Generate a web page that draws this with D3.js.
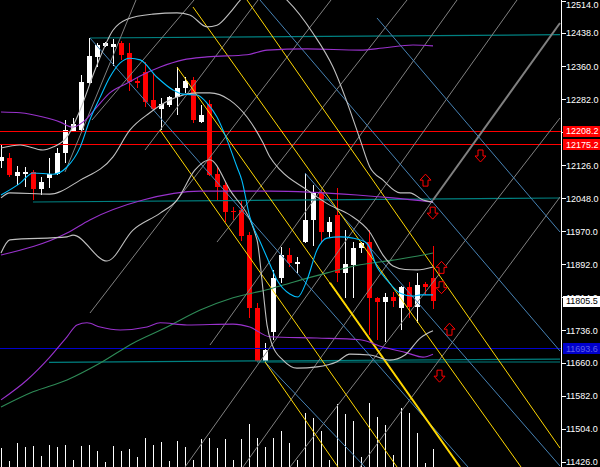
<!DOCTYPE html>
<html><head><meta charset="utf-8">
<script src="https://cdn.jsdelivr.net/npm/d3@7"></script>
<style>html,body{margin:0;padding:0;background:#000;overflow:hidden}</style>
</head><body>
<svg id="c" width="600" height="467"></svg>
<script>
// ---- candles (bar index 0..54) ----
const opens  = [12136,12143,12101,12105,12111,12070,12096,12105,12155,12205,12209,12320,12382,12407,12405,12415,12391,12325,12346,12280,12259,12268,12287,12308,12327,12228,12271,12105,12080,12018,12020,11961,11789,11664,11732,11860,11914,11893,11945,11997,12063,11968,12009,11872,11891,11931,11945,11813,11803,11815,11789,11839,11791,11846,11860];
const highs  = [12174,12155,12124,12122,12115,12098,12143,12167,12233,12238,12339,12427,12415,12418,12424,12420,12415,12335,12370,12344,12285,12290,12358,12335,12335,12268,12280,12122,12087,12028,12042,11969,11801,11706,11879,11933,11931,11909,12108,12080,12068,12004,12072,11973,11945,11945,11973,11815,11824,11827,11840,11850,11872,11850,11935];
const lows   = [12120,12098,12080,12075,12044,12056,12072,12103,12131,12204,12204,12318,12358,12405,12360,12375,12301,12308,12264,12257,12209,12264,12245,12297,12226,12227,12101,12044,11992,11997,11947,11765,11661,11661,11713,11848,11886,11872,11942,11935,11945,11957,11850,11813,11813,11919,11725,11713,11709,11791,11737,11765,11754,11820,11787];
const closes = [12146,12103,12110,12111,12070,12087,12105,12155,12209,12224,12323,12384,12410,12415,12412,12387,12323,12320,12275,12259,12271,12287,12309,12325,12233,12245,12103,12075,12016,12015,11959,11789,11664,11690,11860,11914,11895,11898,11997,12063,11969,11992,11872,11893,11931,11942,11813,11803,11815,11806,11839,11791,11843,11839,11805.5];
const volumes = [190,60,240,200,210,110,220,200,220,70,210,220,160,50,210,160,180,100,290,220,250,60,260,200,70,280,290,190,280,70,280,430,290,200,290,360,240,70,540,490,360,70,630,530,460,100,640,500,420,120,590,540,340,40,180];

// ---- indicators: [bar index, price] ----
const fastMA = [[0,12056],[2.4,12084],[4,12108],[6.5,12105],[8.25,12122],[9.9,12169],[11.1,12233],[12.4,12287],[13.6,12334],[14.9,12368],[16.1,12379],[17.4,12375],[19.5,12334],[21.5,12304],[22.75,12294],[24.5,12292],[25.75,12273],[27,12240],[28.25,12186],[29.5,12122],[30.1,12091],[31.1,12004],[32.4,11945],[33.6,11893],[34.5,11855],[36.1,11822],[37.1,11815],[38.25,11855],[39.5,11926],[40.75,11954],[42.4,11957],[44,11954],[45.75,11942],[47,11886],[48.25,11855],[49.9,11824],[51.5,11817],[52.5,11820],[54,11820]];
const bandUpper = [[0,12167],[2.4,12174],[5.25,12162],[6.5,12169],[8.25,12193],[9.9,12257],[11.75,12351],[14,12445],[15.75,12471],[19,12483],[22,12486],[23.6,12481],[25.75,12453],[27,12457],[28.6,12486],[29.9,12516],[32.6,12559],[35.75,12516],[39,12438],[41.5,12358],[43.6,12257],[44.9,12186],[46.1,12122],[47.75,12091],[49.9,12061],[51.1,12061],[52.75,12044],[54,12039]];
const bandMiddle = [[0,12049],[1.1,12061],[6.1,12058],[9.9,12091],[14,12146],[16.1,12209],[18.6,12250],[21.1,12280],[24.5,12297],[26.1,12297],[28.6,12280],[30.75,12240],[32.75,12179],[33.6,12146],[34.9,12115],[38.25,12068],[41.1,12032],[43.6,12009],[46.1,11968],[47.75,11914],[49,11888],[50.5,11880],[52,11879],[54,11886]];
const bandLower = [[0,11919],[1.1,11950],[8.25,11957],[9,11961],[13.25,11900],[16.5,11973],[19.9,12013],[22,12044],[24.25,12115],[26.1,12139],[28.6,12068],[32,11950],[32.75,11832],[33.25,11749],[33.9,11702],[35.25,11666],[37,11647],[39.5,11650],[42,11662],[43.6,11680],[46.1,11678],[48.6,11666],[50.5,11678],[52.4,11718],[54,11735]];
const envUpper = [[0,12252],[2.4,12250],[5.25,12240],[7.4,12228],[8.9,12216],[10.25,12228],[12,12264],[13.6,12297],[15.75,12320],[17.4,12337],[19.9,12358],[22.75,12375],[25.75,12382],[30.75,12387],[33.25,12398],[38.25,12401],[44.9,12398],[47.75,12403],[51.5,12410],[54,12408]];
const envMiddle = [[0,11914],[8.25,11966],[11.1,11997],[17.75,12044],[24.9,12065],[33.6,12065],[44.5,12056],[49,12049],[54,12039]];
const envLower = [[0,11572],[3.25,11619],[6.1,11673],[8.25,11721],[9.5,11749],[10.75,11754],[12.4,11744],[14.9,11737],[18.25,11744],[19.9,11754],[23.25,11749],[29,11751],[31.1,11744],[33.6,11721],[39.5,11718],[44.9,11714],[47.75,11697],[50.75,11683],[52.75,11673],[54,11680]];
const slowMA = [[0,11555],[4,11591],[8.25,11619],[12.4,11659],[16.5,11706],[20.75,11744],[24.9,11784],[29,11813],[33.6,11834],[36.5,11850],[40.75,11872],[44.9,11891],[49,11902],[52.75,11914],[54,11919]];

// ---- objects ----
const redLevels = [12208.2, 12175.2];
const blueLevel = 11693.6;
const lastPrice = 11805.5;
const tealLines = [[[11.125,12426.6],[69.875,12434.4]],[[4,12039.3],[69.875,12048.8]],[[6,11660.8],[69.875,11668.5]],[[32,11661.5],[69.875,11661.5]]];
const yellowLines = [[[24,12499.8],[65,11413.5]],[[30.75,12516.4],[69.875,11458.3]],[[22,12358.1],[57.375,11413.5]],[[19.875,12209.4],[49.5,11413.5]],[[33,11661.5],[42.125,11413.5]]];
const yellowThick = [[[41.125,11848.7],[57.375,11413.5]]];
const blueLines = [[[11.125,12426.6],[58.375,11413.5]],[[32.375,12516.4],[69.875,11687.4]],[[47,12473.9],[69.875,11968.5]],[[38,12107.8],[69.875,11415.8]],[[33,11661.5],[45.5,11413.5]]];
const grayLines = [[[11.125,11777.2],[41.25,12516.4]],[[27,11944.8],[50.75,12516.4]],[[26.125,11701.6],[57,12516.4]],[[23,11413.5],[64.5,12516.4]],[[30.25,11413.5],[54,12044.0]],[[36.125,11413.5],[69.875,12237.7]],[[44.875,11413.5],[69.875,12051.1]],[[11.375,12233.0],[24.125,12516.4]],[[18,12162.1],[32.125,12516.4]],[[8,12110.2],[16.875,12516.4]]];
const grayThick = [[[54,12044.0],[69.875,12462.0]]];
const upArrows = [[53,12091],[55,11885],[56,11739]];
const downArrows = [[59.875,12148],[53.9,12013],[55,11837],[54.75,11628]];
const tickValues = [12514,12438,12360,12282,12204,12126,12048,11970,11892,11814,11736,11660,11582,11504,11426];

// ---- drawing ----
const x = d3.scaleLinear().domain([0,70]).range([1,561]);
const y = d3.scaleLinear().domain([11413.5,12516.4]).range([467,0]);
const vy = d3.scaleLinear().domain([0,1000]).range([467,367]);

const svg = d3.select('#c');
svg.append('rect').attr('width',600).attr('height',467).attr('fill','#000');
svg.append('defs').append('clipPath').attr('id','clip')
  .append('rect').attr('x',0).attr('y',0).attr('width',561).attr('height',467);
const plot = svg.append('g').attr('clip-path','url(#clip)');

// volume
plot.append('g').selectAll('line').data(volumes).join('line')
  .attr('x1',(d,i)=>x(i)+0.5).attr('x2',(d,i)=>x(i)+0.5)
  .attr('y1',vy(0)).attr('y2',d=>vy(d))
  .attr('stroke','#fff').attr('stroke-width',1).attr('shape-rendering','crispEdges');

// candles
const bars = d3.range(opens.length);
const cg = plot.append('g').attr('shape-rendering','crispEdges');
cg.selectAll('line').data(bars).join('line')
  .attr('x1',i=>x(i)+0.5).attr('x2',i=>x(i)+0.5)
  .attr('y1',i=>y(highs[i])).attr('y2',i=>y(lows[i]))
  .attr('stroke',i=>closes[i]>=opens[i]?'#fff':'#ff0000');
cg.selectAll('rect').data(bars).join('rect')
  .attr('x',i=>x(i)-2).attr('width',5)
  .attr('y',i=>y(Math.max(opens[i],closes[i])))
  .attr('height',i=>Math.max(1,Math.abs(y(opens[i])-y(closes[i]))))
  .attr('fill',i=>closes[i]>=opens[i]?'#fff':'#ff0000');

const seg = d3.line().x(d=>x(d[0])).y(d=>y(d[1]));
function drawLines(data,color,w){
  plot.append('g').selectAll('path').data(data).join('path')
    .attr('d',seg).attr('fill','none').attr('stroke',color).attr('stroke-width',w);
}
// horizontal levels
plot.append('g').selectAll('line').data(redLevels).join('line')
  .attr('x1',0).attr('x2',561).attr('y1',d=>Math.round(y(d))+0.5).attr('y2',d=>Math.round(y(d))+0.5)
  .attr('stroke','#ff0000');
plot.append('line').attr('x1',0).attr('x2',561)
  .attr('y1',Math.round(y(blueLevel))+0.5).attr('y2',Math.round(y(blueLevel))+0.5).attr('stroke','#0000cd');
drawLines(tealLines,'#008080',1.2);

// diagonal objects
drawLines(grayLines,'#808080',1);
drawLines(grayThick,'#808080',2);
drawLines(blueLines,'#4682b4',1);
drawLines(yellowLines,'#ffd700',1);
drawLines(yellowThick,'#ffd700',2);

// indicators
const curve = d3.line().x(d=>x(d[0])).y(d=>y(d[1])).curve(d3.curveMonotoneX);
function drawCurve(data,color){
  plot.append('path').datum(data).attr('d',curve).attr('fill','none').attr('stroke',color).attr('stroke-width',1.1);
}
drawCurve(slowMA,'#2e8b57');
drawCurve(envUpper,'#9932cc');
drawCurve(envMiddle,'#9932cc');
drawCurve(envLower,'#9932cc');
drawCurve(bandUpper,'#c0c0c0');
drawCurve(bandMiddle,'#c0c0c0');
drawCurve(bandLower,'#c0c0c0');
drawCurve(fastMA,'#00bfff');

// arrows
const upPath = 'M0,-6 L5.5,0 L2.5,0 L2.5,6 L-2.5,6 L-2.5,0 L-5.5,0 Z';
const downPath = 'M0,6 L5.5,0 L2.5,0 L2.5,-6 L-2.5,-6 L-2.5,0 L-5.5,0 Z';
plot.append('g').selectAll('path').data(upArrows).join('path')
  .attr('d',upPath).attr('transform',d=>`translate(${x(d[0])+0.5},${y(d[1])})`)
  .attr('fill','#000').attr('stroke','#ff0000').attr('stroke-width',1);
plot.append('g').selectAll('path').data(downArrows).join('path')
  .attr('d',downPath).attr('transform',d=>`translate(${x(d[0])+0.5},${y(d[1])})`)
  .attr('fill','#000').attr('stroke','#ff0000').attr('stroke-width',1);

// right axis
const FONT = 'Liberation Sans, Arial, sans-serif';
const ax = svg.append('g');
ax.append('line').attr('x1',561.5).attr('x2',561.5).attr('y1',0).attr('y2',467).attr('stroke','#fff');
ax.selectAll('line.t').data(tickValues).join('line').attr('class','t')
  .attr('x1',561).attr('x2',566).attr('y1',d=>Math.round(y(d))+0.5).attr('y2',d=>Math.round(y(d))+0.5)
  .attr('stroke','#fff');
// the 12204.0 label lies fully under the 12208.2 price box in the reference
const hidden = new Set([12204]);
ax.selectAll('text.t').data(tickValues.filter(v=>!hidden.has(v))).join('text').attr('class','t')
  .attr('x',566).attr('y',d=>Math.max(8,y(d)+3.3))
  .attr('fill','#fff').attr('font-family',FONT).attr('font-size','9px')
  .text(d=>d.toFixed(1));

// price boxes
const boxes = [
  {v:redLevels[0],bg:'#ff0000',fg:'#ffffff'},
  {v:redLevels[1],bg:'#ff0000',fg:'#ffffff'},
  {v:lastPrice,bg:'#ffffff',fg:'#000000'},
  {v:blueLevel,bg:'#0000cd',fg:'#6060e8'}
];
const bg = svg.append('g');
bg.selectAll('rect').data(boxes).join('rect')
  .attr('x',563).attr('width',37).attr('y',d=>Math.round(y(d.v))-5).attr('height',11)
  .attr('fill',d=>d.bg);
bg.selectAll('text').data(boxes).join('text')
  .attr('x',566).attr('y',d=>y(d.v)+3.3)
  .attr('fill',d=>d.fg).attr('font-family',FONT).attr('font-size','9px')
  .text(d=>d.v.toFixed(1));
</script>
</body></html>
